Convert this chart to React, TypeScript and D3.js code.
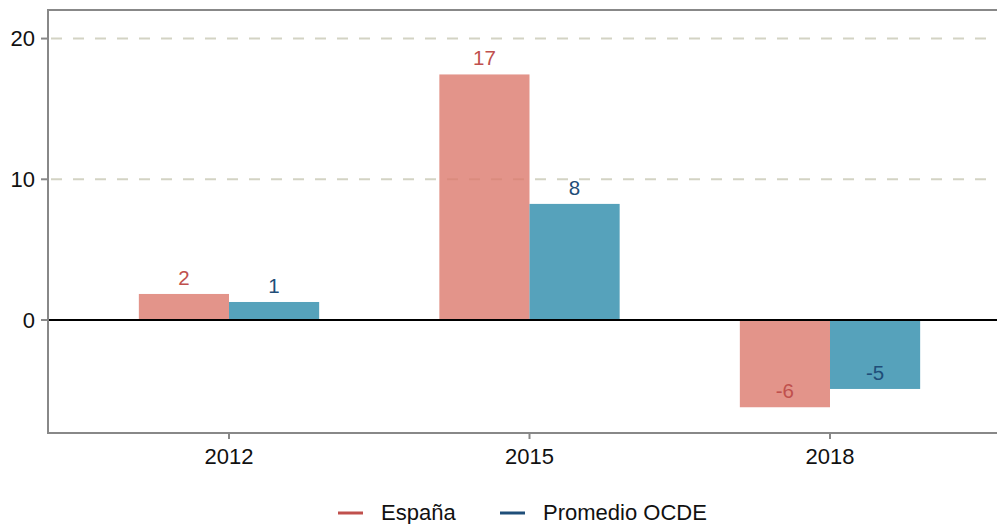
import React from "react";
import * as d3 from "d3";

const categories = ["2012", "2015", "2018"];
const seriesNames = ["España", "Promedio OCDE"];
const espana = [1.85, 17.45, -6.2];
const ocde = [1.28, 8.25, -4.9];
const yTicks = [0, 10, 20];

const W = 998;
const H = 524;
const fills = ["#DC796D", "#2C8BAA"];
const textColors = ["#C0504D", "#1F4E79"];
const FONT = "'Liberation Sans', Arial, Helvetica, sans-serif";

export default function App() {
  const panelLeft = 48;
  const panelTop = 10;
  const panelBottom = 433;
  const panelRight = 997;

  const x = d3.scaleLinear().domain([0.4, 3.6]).range([48.7, 1010.3]);
  const y = d3.scaleLinear().domain([-8.03, 22.03]).range([panelBottom, panelTop]);
  const barW = x(1.3) - x(1);

  const series = [espana, ocde];

  return (
    <svg
      width={W}
      height={H}
      style={{ position: "absolute", left: 0, top: 0, background: "#fff" }}
      fontFamily={FONT}
    >
      <defs>
        <clipPath id="panel">
          <rect x={panelLeft} y={panelTop} width={panelRight - panelLeft} height={panelBottom - panelTop} />
        </clipPath>
      </defs>
      {/* grid */}
      {yTicks.filter((t) => t !== 0).map((t) => (
        <line
          key={t}
          x1={panelLeft}
          x2={panelRight}
          y1={y(t)}
          y2={y(t)}
          stroke="#D3D3C4"
          strokeWidth={2}
          strokeDasharray="11,11"
          strokeDashoffset={-3}
        />
      ))}
      {/* bars */}
      <g clipPath="url(#panel)">
        {categories.map((c, i) =>
          series.map((s, j) => {
            const v = s[i];
            const x0 = x(i + 1) - barW + j * barW;
            return (
              <rect
                key={c + j}
                x={x0}
                width={barW}
                y={Math.min(y(v), y(0))}
                height={Math.abs(y(v) - y(0))}
                fill={fills[j]}
                fillOpacity={0.8}
              />
            );
          })
        )}
      </g>
      {/* zero line */}
      <line x1={panelLeft} x2={panelRight} y1={y(0)} y2={y(0)} stroke="#000" strokeWidth={2.2} />
      {/* labels */}
      {categories.map((c, i) =>
        series.map((s, j) => {
          const v = s[i];
          const cx = x(i + 1) - barW / 2 + j * barW;
          return (
            <text
              key={"l" + c + j}
              x={cx}
              y={y(v) - 9}
              textAnchor="middle"
              fontSize={20.5}
              fill={textColors[j]}
            >
              {Math.round(v)}
            </text>
          );
        })
      )}
      {/* panel border */}
      <line x1={panelLeft} x2={panelRight} y1={panelTop} y2={panelTop} stroke="#888" strokeWidth={2} />
      <line x1={panelLeft} x2={panelRight} y1={panelBottom} y2={panelBottom} stroke="#888" strokeWidth={2} />
      <line x1={panelLeft} x2={panelLeft} y1={panelTop - 1} y2={panelBottom + 1} stroke="#888" strokeWidth={2} />
      {/* y axis */}
      {yTicks.map((t) => (
        <g key={"y" + t}>
          <line x1={panelLeft - 7} x2={panelLeft} y1={y(t)} y2={y(t)} stroke="#888" strokeWidth={2} />
          <text x={panelLeft - 13} y={y(t)} dy="0.36em" textAnchor="end" fontSize={22} fill="#111">
            {t}
          </text>
        </g>
      ))}
      {/* x axis */}
      {categories.map((c, i) => (
        <g key={"x" + c}>
          <line x1={x(i + 1)} x2={x(i + 1)} y1={panelBottom} y2={panelBottom + 6} stroke="#888" strokeWidth={2} />
          <text x={x(i + 1)} y={panelBottom + 31} textAnchor="middle" fontSize={22} fill="#111">
            {c}
          </text>
        </g>
      ))}
      {/* legend */}
      {(() => {
        const items = [
          { x: 338, name: seriesNames[0] },
          { x: 500, name: seriesNames[1] },
        ];
        return items.map((it, j) => (
          <g key={"lg" + j}>
            <line x1={it.x} x2={it.x + 25} y1={513} y2={513} stroke={textColors[j]} strokeWidth={3} />
            <text x={it.x + 43} y={520} fontSize={22} fill="#111">
              {it.name}
            </text>
          </g>
        ));
      })()}
    </svg>
  );
}
